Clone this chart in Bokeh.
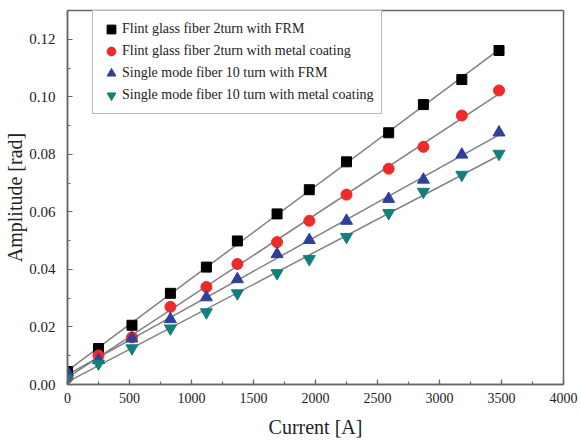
import numpy as np
from bokeh.plotting import figure
from bokeh.models import Range1d, SingleIntervalTicker, NumeralTickFormatter, Legend
from bokeh.embed import file_html
from bokeh.resources import INLINE

# Data
current = [0, 250, 520, 830, 1120, 1370, 1690, 1950, 2250, 2590, 2870, 3180, 3480]
flint_frm = [0.0045, 0.0125, 0.0206, 0.0317, 0.0408, 0.0499, 0.0593, 0.0677, 0.0774, 0.0875, 0.0973, 0.1060, 0.1161]
flint_metal = [0.0024, 0.0101, 0.0164, 0.0270, 0.0339, 0.0419, 0.0495, 0.0569, 0.0660, 0.0750, 0.0826, 0.0935, 0.1022]
single_frm = [0.0042, 0.0085, 0.0160, 0.0227, 0.0303, 0.0366, 0.0453, 0.0502, 0.0569, 0.0645, 0.0712, 0.0799, 0.0876]
single_metal = [0.0020, 0.0073, 0.0126, 0.0195, 0.0251, 0.0317, 0.0387, 0.0436, 0.0513, 0.0596, 0.0670, 0.0729, 0.0802]

labels = [
    "Flint glass fiber 2turn with FRM",
    "Flint glass fiber 2turn with metal coating",
    "Single mode fiber 10 turn with FRM",
    "Single mode fiber 10 turn with metal coating",
]
series = [flint_frm, flint_metal, single_frm, single_metal]
markers = ["square", "circle", "triangle", "inverted_triangle"]
colors = ["#000000", "#ee2a2a", "#2f3f9c", "#137f7c"]
sizes = [10, 11, 12, 12]

FONT = "Liberation Serif"
AX = "#666666"

p = figure(width=580, height=443, output_backend="svg", toolbar_location=None,
           x_range=Range1d(0, 4000), y_range=Range1d(0, 0.13),
           min_border_left=67, min_border_right=17, min_border_top=10, min_border_bottom=59)
p.background_fill_color = "white"
p.border_fill_color = "white"
p.xgrid.visible = False
p.ygrid.visible = False
p.outline_line_color = AX
p.outline_line_width = 1.5

# fitted lines
xs = np.array(current, dtype=float)
for ys in series:
    k, b = np.polyfit(xs, np.array(ys), 1)
    x0, x1 = xs.min(), xs.max()
    p.line([x0, x1], [k * x0 + b, k * x1 + b], line_color="#808080", line_width=1.5)

items = []
for ys, m, c, s, lab in zip(series, markers, colors, sizes, labels):
    r = p.scatter(current, ys, marker=m, size=s, fill_color=c, line_color=c)
    items.append((lab, [r]))

legend = Legend(items=items, location=(25, 270))
legend.label_text_font = FONT
legend.label_text_font_size = "14px"
legend.label_text_color = "#222222"
legend.glyph_width = 22
legend.glyph_height = 22
legend.label_height = 22
legend.label_standoff = 0
legend.spacing = 0
legend.padding = 7
legend.margin = 0
legend.border_line_color = "#777777"
legend.border_line_width = 1.5
legend.background_fill_alpha = 1
p.add_layout(legend, "center")

for ax in (p.xaxis[0], p.yaxis[0]):
    ax.axis_line_color = AX
    ax.axis_line_width = 1.5
    ax.major_tick_line_color = AX
    ax.minor_tick_line_color = AX
    ax.major_tick_line_width = 1.2
    ax.minor_tick_line_width = 1.2
    ax.major_tick_in = 5
    ax.major_tick_out = 0
    ax.minor_tick_in = 3
    ax.minor_tick_out = 0
    ax.major_label_text_font = FONT
    ax.major_label_text_color = "#222222"
    ax.axis_label_text_font = FONT
    ax.axis_label_text_font_size = "20px"
    ax.axis_label_text_font_style = "normal"
    ax.axis_label_text_color = "#222222"

p.xaxis.major_label_text_font_size = "14px"
p.yaxis.major_label_text_font_size = "15px"
p.xaxis.ticker = SingleIntervalTicker(interval=500, num_minor_ticks=2)
p.yaxis.ticker = SingleIntervalTicker(interval=0.02, num_minor_ticks=2)
p.yaxis.formatter = NumeralTickFormatter(format="0.00")
p.xaxis.axis_label = "Current [A]"
p.yaxis.axis_label = "Amplitude [rad]"
p.xaxis.major_label_standoff = 8
p.xaxis.axis_label_standoff = 10
p.yaxis.major_label_standoff = 12
p.yaxis.axis_label_standoff = 0

open("out.html", "w").write(file_html(p, INLINE))
